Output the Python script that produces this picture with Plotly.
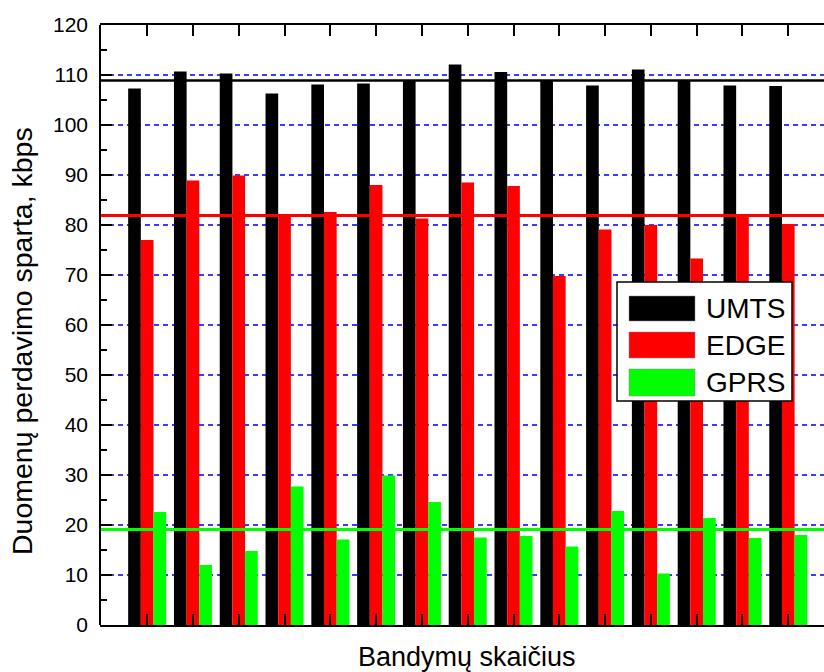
import plotly.graph_objects as go

# Measured transfer rates per test run, kbps
test_runs = list(range(1, 16))
umts = [107.3, 110.7, 110.3, 106.3, 108.1, 108.3, 109.0, 112.1, 110.6, 109.0, 107.9, 111.1, 109.0, 107.9, 107.8]
edge = [77.0, 88.9, 89.9, 82.0, 82.6, 88.0, 81.3, 88.5, 87.8, 69.8, 79.1, 80.0, 73.3, 81.8, 80.2]
gprs = [22.6, 12.0, 14.8, 27.7, 17.1, 29.9, 24.6, 17.5, 17.8, 15.7, 22.8, 10.3, 21.4, 17.4, 18.0]

series_names = ["UMTS", "EDGE", "GPRS"]
series_colors = ["#000000", "#ff0000", "#00ff00"]
# Average level of each technology
mean_levels = [108.9, 81.9, 19.1]
y_tick_values = list(range(0, 121, 10))
y_minor_values = list(range(5, 120, 10))

W, H = 824, 672
ML, MR, MT, MB = 100, 0, 25, 47
PW, PH = W - ML - MR, H - MT - MB


def px_x(px):
    return (px - ML) / PW


def px_y(py):
    return (H - MB - py) / PH


FONT = "Liberation Sans, Arial, Helvetica, sans-serif"

fig = go.Figure()
for name, vals, col in zip(series_names, [umts, edge, gprs], series_colors):
    fig.add_trace(go.Bar(
        x=test_runs, y=vals, name=name,
        marker=dict(color=col, line=dict(width=0)),
        showlegend=False,
    ))
# carrier trace for the minor-tick axis (draws nothing)
fig.add_trace(go.Scatter(x=test_runs, y=gprs, yaxis="y2", mode="none",
                         hoverinfo="skip", showlegend=False))

shapes = []
# average lines across the whole plot
for level, col, lw in zip(mean_levels, series_colors, [2.7, 3, 3]):
    shapes.append(dict(type="line", xref="paper", yref="y", x0=0, x1=1,
                       y0=level, y1=level, line=dict(color=col, width=lw),
                       layer="above"))

# legend box
shapes.append(dict(type="rect", xref="paper", yref="paper",
                   x0=px_x(617), x1=px_x(792), y0=px_y(401), y1=px_y(282),
                   fillcolor="white", line=dict(color="black", width=1.5),
                   layer="above"))
annotations = []
rows = [(296, 321), (332, 358), (369, 396)]
for (top, bot), name, col in zip(rows, series_names, series_colors):
    shapes.append(dict(type="rect", xref="paper", yref="paper",
                       x0=px_x(629), x1=px_x(695), y0=px_y(bot), y1=px_y(top),
                       fillcolor=col, line=dict(color="#888888", width=0.5),
                       layer="above"))
    annotations.append(dict(xref="paper", yref="paper", x=px_x(704),
                            y=px_y((top + bot) / 2), text=name, showarrow=False,
                            xanchor="left", yanchor="middle",
                            font=dict(family=FONT, size=28, color="black")))

# left axis line
shapes.append(dict(type="line", xref="paper", yref="paper", x0=0, x1=0,
                   y0=0, y1=1, line=dict(color="black", width=2), layer="above"))

# axis titles
annotations.append(dict(xref="paper", yref="paper", x=px_x(22), y=px_y(341),
                        text="Duomenų perdavimo sparta, kbps", textangle=-90,
                        showarrow=False, xanchor="center", yanchor="middle",
                        font=dict(family=FONT, size=28.5, color="black")))
annotations.append(dict(xref="paper", yref="paper", x=px_x(467), y=px_y(657),
                        text="Bandymų skaičius", showarrow=False,
                        xanchor="center", yanchor="middle",
                        font=dict(family=FONT, size=27, color="black")))

fig.update_layout(
    width=W, height=H,
    margin=dict(l=ML, r=MR, t=MT, b=MB, pad=0),
    paper_bgcolor="white", plot_bgcolor="white",
    barmode="group", bargap=0.17, bargroupgap=0,
    showlegend=False,
    shapes=shapes, annotations=annotations,
    xaxis=dict(
        range=[-0.03, 15.78], tickmode="array", tickvals=test_runs,
        ticktext=["" for _ in test_runs], ticks="inside", ticklen=11,
        tickwidth=2, tickcolor="black", showline=True, linecolor="black",
        linewidth=2, mirror="ticks", showgrid=False, zeroline=False,
    ),
    yaxis=dict(
        range=[0, 120], tickmode="array", tickvals=y_tick_values,
        ticks="inside", ticklen=12, tickwidth=2, tickcolor="black",
        showline=False, showgrid=True, gridcolor="rgb(60,60,255)",
        gridwidth=1.5, griddash="5px,4px", zeroline=False,
        ticklabelstandoff=11,
        tickfont=dict(family=FONT, size=21, color="black"),
    ),
    yaxis2=dict(
        range=[0, 120], overlaying="y", side="left", anchor="x",
        tickmode="array", tickvals=y_minor_values, ticks="inside",
        ticklen=7, tickwidth=2, tickcolor="black", showticklabels=False,
        showgrid=False, zeroline=False, showline=False,
    ),
)

fig.write_html("out.html")
